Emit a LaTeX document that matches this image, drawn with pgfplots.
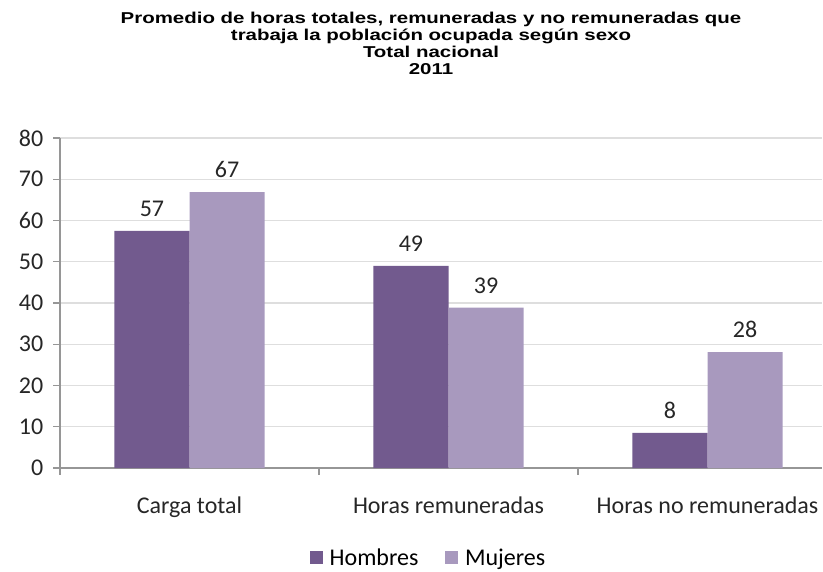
\documentclass[border=0pt]{standalone}
\usepackage{fontspec}
\setmainfont{Carlito}
\newfontfamily\arialb{Liberation Sans}[FakeStretch=1.3]
\usepackage{pgfplots}
\pgfplotsset{compat=1.18}
\definecolor{hom}{RGB}{114,90,142}
\definecolor{muj}{RGB}{168,153,190}
\definecolor{axgray}{RGB}{150,150,150}
\definecolor{gridc}{RGB}{222,222,222}
\begin{document}
\begin{tikzpicture}
\path[use as bounding box] (0pt,0pt) rectangle (617.25pt,428.25pt);
\node[align=center,font=\arialb\bfseries\fontsize{11.8pt}{12.8pt}\selectfont] at (323.25pt,395.5pt)
 {Promedio de horas totales, remuneradas y no remuneradas que\\trabaja la población ocupada según sexo\\Total nacional\\2011};
\begin{axis}[
 at={(45pt,77.25pt)}, anchor=south west, scale only axis,
 width=571.5pt, height=247.5pt,
 xmin=-0.5, xmax=2.442, ymin=0, ymax=80,
 ybar=0pt, bar width=0.29,
 axis x line*=bottom, axis y line*=left,
 axis line style={axgray, line width=0.8pt},
 ytick={0,10,...,80}, ymajorgrids, grid style={gridc, line width=0.8pt},
 xtick={0,1,2}, xticklabels={Carga total, Horas remuneradas, Horas no remuneradas},
 major x tick style={draw=none},
 minor xtick={-0.5,0.5,1.5},
 minor x tick style={axgray, line width=0.8pt},
 tick align=outside, major tick length=5pt, minor tick length=5pt,
 y tick style={axgray, line width=0.8pt},
 /pgf/number format/assume math mode=true,
 tick label style={font=\fontsize{18pt}{20pt}\selectfont, text=black!85},
 xticklabel style={yshift=-13pt},
 yticklabel style={xshift=-4pt},
 nodes near coords, point meta=explicit symbolic,
 every node near coord/.append style={font=\fontsize{18pt}{20pt}\selectfont, text=black!85, yshift=7pt},
 legend style={at={(0.484,-0.272)}, anchor=center, draw=none, legend columns=2,
   font=\fontsize{18pt}{20pt}\selectfont,
   /tikz/every odd column/.append style={column sep=3pt},
   /tikz/every even column/.append style={column sep=18pt}},
 legend image code/.code={\fill[#1] (0pt,-5pt) rectangle (10pt,5pt);},
]
\addplot[fill=hom, draw=none] coordinates {(0,57.5)[57] (1,49)[49] (2,8.5)[8]};
\addplot[fill=muj, draw=none] coordinates {(0,66.9)[67] (1,38.9)[39] (2,28.1)[28]};
\legend{Hombres, Mujeres}
\end{axis}
\end{tikzpicture}
\end{document}
